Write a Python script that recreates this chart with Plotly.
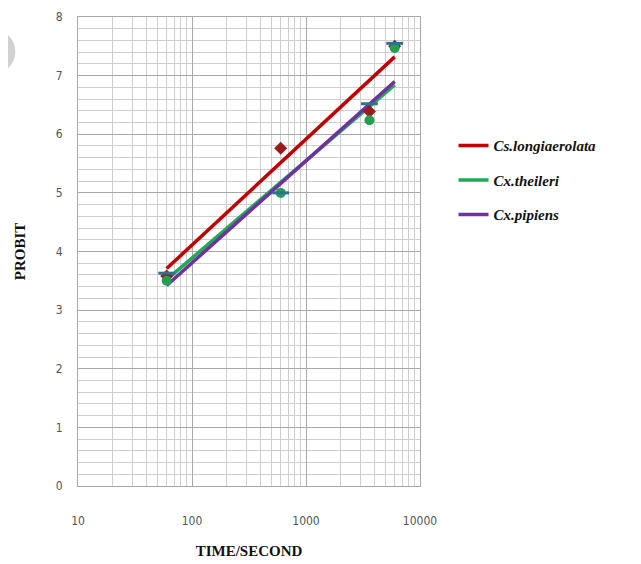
import plotly.graph_objects as go

# ---- data ----
time_points = [60, 600, 3600, 6000]
species = ["Cs.longiaerolata", "Cx.theileri", "Cx.pipiens"]
probit_cs = [3.58, 5.76, 6.39, 7.50]
probit_theileri = [3.50, 5.00, 6.24, 7.47]
probit_pipiens = [3.63, 5.00, 6.52, 7.55]
trend_x = [60, 6000]
trend_cs = [3.71, 7.32]
trend_theileri = [3.52, 6.84]
trend_pipiens = [3.42, 6.90]
x_tick_vals = [10, 100, 1000, 10000]
x_tick_text = ["10", "100", "1000", "10000"]
x_minor_vals = [m * d for d in (10, 100, 1000) for m in range(2, 10)]
y_tick_vals = [0, 1, 2, 3, 4, 5, 6, 7, 8]

line_colors = ["#c00000", "#1faa55", "#7030a0"]
marker_colors = ["#9b1b1b", "#22a04f", "#2f6f8f"]
marker_symbols = ["diamond", "circle", "line-ew"]

fig = go.Figure()

obs = [probit_cs, probit_theileri, probit_pipiens]
trends = [trend_cs, trend_theileri, trend_pipiens]

for i, name in enumerate(species):
    fig.add_trace(go.Scatter(
        x=trend_x, y=trends[i], mode="lines", name=name,
        line=dict(color=line_colors[i], width=3.5),
        legendgroup=name, showlegend=True,
    ))

for i, name in enumerate(species):
    sym = marker_symbols[i]
    mk = dict(color=marker_colors[i], size=10 if sym != "line-ew" else 12, symbol=sym)
    if sym == "line-ew":
        mk["line"] = dict(color=marker_colors[i], width=3)
    fig.add_trace(go.Scatter(
        x=time_points, y=obs[i], mode="markers", name=name,
        marker=mk, showlegend=False,
    ))

tick_font = dict(family="Liberation Sans Narrow, DejaVu Sans Condensed, Arial Narrow, sans-serif",
                 size=12, color="#555555")
title_font = dict(family="Liberation Serif, Times New Roman, serif", size=15, color="#111111")

# faint watermark arc at the top-left corner
fig.add_shape(type="circle", xref="paper", yref="paper",
              x0=-0.306, x1=-0.195, y0=0.886, y1=0.966,
              line=dict(color="#d2d2d2", width=8), layer="below")

fig.update_layout(
    width=641, height=564,
    margin=dict(l=70, r=229, t=9, b=86, autoexpand=False),
    paper_bgcolor="white", plot_bgcolor="white",
    showlegend=True,
    legend=dict(
        x=1.098, y=0.652, xanchor="left", yanchor="middle",
        font=dict(family="Liberation Serif, Times New Roman, serif", size=15, color="#111111",
                  style="italic", weight="bold"),
        tracegroupgap=12, bgcolor="rgba(0,0,0,0)",
    ),
    xaxis=dict(
        type="log", range=[1, 4],
        tickvals=x_tick_vals, ticktext=x_tick_text,
        showgrid=True, gridcolor="#a8a8a8", gridwidth=1.2,
        minor=dict(tickmode="array", tickvals=x_minor_vals, showgrid=True,
                   gridcolor="#cfcfcf", gridwidth=1, ticks=""),
        showline=True, linecolor="#a8a8a8", mirror=True,
        ticks="", tickfont=tick_font, ticklabelstandoff=24,
        ticklabeloverflow="allow",
        zeroline=False,
        title=dict(text="<b>TIME/SECOND</b>", font=title_font, standoff=18),
    ),
    yaxis=dict(
        range=[0, 8], tickvals=y_tick_vals,
        showgrid=True, gridcolor="#a8a8a8", gridwidth=1.2,
        minor=dict(dtick=0.2, showgrid=True, gridcolor="#cfcfcf", gridwidth=1, ticks=""),
        showline=True, linecolor="#a8a8a8", mirror=True,
        ticks="", tickfont=tick_font, ticklabelstandoff=12,
        ticklabeloverflow="allow",
        zeroline=False,
        title=dict(text="<b>PROBIT</b>", font=title_font, standoff=26),
    ),
)

fig.write_html("out.html")
